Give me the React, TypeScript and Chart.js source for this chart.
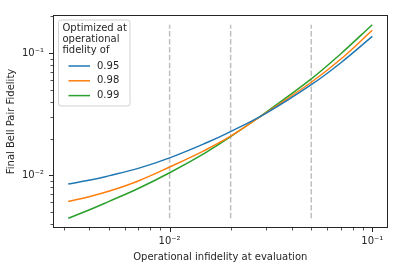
import React, { useEffect, useRef } from "react";
import { Chart, registerables } from "chart.js";

Chart.register(...registerables);

// ---- data ----
const infidelity = [0.00316, 0.004, 0.005, 0.007, 0.01, 0.015, 0.02, 0.03, 0.05, 0.07, 0.1];
const fid095 = [0.0085, 0.0091, 0.0099, 0.0114, 0.0139, 0.0183, 0.0228, 0.0323, 0.0552, 0.0835, 0.137];
const fid098 = [0.0061, 0.00668, 0.0074, 0.009, 0.0117, 0.0161, 0.0209, 0.0326, 0.0578, 0.0895, 0.154];
const fid099 = [0.00445, 0.0052, 0.0061, 0.0078, 0.0105, 0.0153, 0.0207, 0.033, 0.0615, 0.099, 0.171];
const seriesLabels = ["0.95", "0.98", "0.99"];
const seriesColors = ["#1f77b4", "#ff7f0e", "#2ca02c"];
const markerInfidelities = [0.01, 0.02, 0.05];
const xTickLabels: Record<string, string> = { "0.01": "10\u207B\u00B2", "0.1": "10\u207B\u00B9" };
const yTickLabels: Record<string, string> = { "0.01": "10\u207B\u00B2", "0.1": "10\u207B\u00B9" };
const legendTitle = ["Optimized at", "operational", "fidelity of"];
const xTitle = "Operational infidelity at evaluation";
const yTitle = "Final Bell Pair Fidelity";

const FONT = "'DejaVu Sans', sans-serif";

function logLimits(vals: number[]) {
  const lo = Math.log10(Math.min(...vals));
  const hi = Math.log10(Math.max(...vals));
  const m = (hi - lo) * 0.05;
  return [Math.pow(10, lo - m), Math.pow(10, hi + m)];
}

function logTicks(min: number, max: number) {
  const out: number[] = [];
  for (let d = Math.floor(Math.log10(min)); d <= Math.ceil(Math.log10(max)); d++) {
    for (let k = 1; k <= 9; k++) {
      const v = parseFloat((k * Math.pow(10, d)).toPrecision(6));
      if (v >= min && v <= max) out.push(v);
    }
  }
  return out;
}

function isMajor(v: number) {
  const l = Math.log10(v);
  return Math.abs(l - Math.round(l)) < 1e-9;
}

const allY = [...fid095, ...fid098, ...fid099];
const [xMin, xMax] = logLimits(infidelity);
const [yMin, yMax] = logLimits(allY);
const vMin = Math.min(...allY);
const vMax = Math.max(...allY);

const decorPlugin = {
  id: "decor",
  afterDatasetsDraw(chart: any) {
    const { ctx, chartArea: a, scales } = chart;
    ctx.save();
    ctx.strokeStyle = "#262626";
    const xs = scales.x;
    const ys = scales.y;
    xs.ticks.forEach((t: any) => {
      const px = Math.round(xs.getPixelForValue(t.value)) + 0.5;
      const major = isMajor(t.value);
      ctx.lineWidth = major ? 1 : 0.8;
      ctx.beginPath();
      ctx.moveTo(px, a.bottom);
      ctx.lineTo(px, a.bottom + (major ? 4 : 2.5));
      ctx.stroke();
    });
    ys.ticks.forEach((t: any) => {
      const py = Math.round(ys.getPixelForValue(t.value)) + 0.5;
      const major = isMajor(t.value);
      ctx.lineWidth = major ? 1 : 0.8;
      ctx.beginPath();
      ctx.moveTo(a.left, py);
      ctx.lineTo(a.left - (major ? 4 : 2.5), py);
      ctx.stroke();
    });
    ctx.lineWidth = 1;
    const l = Math.round(a.left) + 0.5;
    const r = Math.round(a.right) - 0.5;
    const tp = Math.round(a.top) + 0.5;
    const b = Math.round(a.bottom) - 0.5;
    ctx.strokeRect(l, tp, r - l, b - tp);
    ctx.restore();
  },
  afterDraw(chart: any) {
    const { ctx, chartArea: a } = chart;
    ctx.save();
    const bx = a.left + 5.5;
    const by = a.top + 5;
    const bw = 71.5;
    const bh = 86;
    ctx.beginPath();
    if ((ctx as any).roundRect) (ctx as any).roundRect(bx, by, bw, bh, 2.5);
    else ctx.rect(bx, by, bw, bh);
    ctx.fillStyle = "rgba(255,255,255,0.8)";
    ctx.fill();
    ctx.strokeStyle = "rgba(204,204,204,0.9)";
    ctx.lineWidth = 1;
    ctx.stroke();
    ctx.font = `10px ${FONT}`;
    ctx.fillStyle = "#262626";
    ctx.textBaseline = "middle";
    ctx.textAlign = "left";
    legendTitle.forEach((s, i) => {
      ctx.fillText(s, bx + 4, by + 8.5 + i * 11.2);
    });
    seriesLabels.forEach((s, i) => {
      const y = by + 46 + i * 14.8;
      ctx.strokeStyle = seriesColors[i];
      ctx.lineWidth = 1.5;
      ctx.beginPath();
      ctx.moveTo(bx + 10, y);
      ctx.lineTo(bx + 31.5, y);
      ctx.stroke();
      ctx.fillStyle = "#262626";
      ctx.fillText(s, bx + 38.5, y);
    });
    ctx.restore();
  },
};

export default function App() {
  const ref = useRef<HTMLCanvasElement | null>(null);
  useEffect(() => {
    if (!ref.current) return;
    const series = [fid095, fid098, fid099];
    const datasets: any[] = series.map((ys, i) => ({
      label: seriesLabels[i],
      data: infidelity.map((x, j) => ({ x, y: ys[j] })),
      borderColor: seriesColors[i],
      backgroundColor: seriesColors[i],
      borderWidth: 1.5,
      pointRadius: 0,
      tension: 0.4,
      fill: false,
      order: 1,
    }));
    markerInfidelities.forEach((x) => {
      datasets.push({
        label: "_marker",
        data: [
          { x, y: vMin },
          { x, y: vMax },
        ],
        borderColor: "rgba(128,128,128,0.5)",
        borderWidth: 1.5,
        borderDash: [5.5, 2.4],
        pointRadius: 0,
        tension: 0,
        fill: false,
        order: 5,
      });
    });
    const tickFont = { family: FONT, size: 10 };
    const chart = new Chart(ref.current, {
      type: "line",
      data: { datasets },
      options: {
        animation: false,
        responsive: false,
        layout: { padding: { left: 0, right: 10.5, top: 11, bottom: 0 } },
        plugins: { legend: { display: false }, tooltip: { enabled: false } },
        scales: {
          x: {
            type: "logarithmic",
            min: xMin,
            max: xMax,
            grid: { display: true, drawOnChartArea: false, drawTicks: false },
            border: { display: false },
            afterBuildTicks: (s: any) => {
              s.ticks = logTicks(xMin, xMax).map((v) => ({ value: v, major: isMajor(v) }));
            },
            afterFit: (s: any) => {
              s.height = 42;
            },
            ticks: {
              autoSkip: false,
              maxRotation: 0,
              minRotation: 0,
              padding: 7,
              color: "#262626",
              font: tickFont,
              callback: (v: any) => xTickLabels[String(parseFloat(Number(v).toPrecision(6)))] || "",
            },
            title: {
              display: true,
              text: xTitle,
              color: "#262626",
              font: tickFont,
              padding: { top: 0, bottom: 7 },
            },
          },
          y: {
            type: "logarithmic",
            min: yMin,
            max: yMax,
            grid: { display: true, drawOnChartArea: false, drawTicks: false },
            border: { display: false },
            afterBuildTicks: (s: any) => {
              s.ticks = logTicks(yMin, yMax).map((v) => ({ value: v, major: isMajor(v) }));
            },
            afterFit: (s: any) => {
              s.width = 53;
            },
            ticks: {
              autoSkip: false,
              padding: 9,
              color: "#262626",
              font: tickFont,
              callback: (v: any) => yTickLabels[String(parseFloat(Number(v).toPrecision(6)))] || "",
            },
            title: {
              display: true,
              text: yTitle,
              color: "#262626",
              font: tickFont,
              padding: { top: 5, bottom: 0 },
            },
          },
        },
      },
      plugins: [decorPlugin],
    } as any);
    return () => chart.destroy();
  }, []);
  return (
    <div style={{ position: "absolute", left: 0, top: 0, width: 398, height: 270, background: "#fff" }}>
      <canvas ref={ref} width={398} height={270} style={{ display: "block" }} />
    </div>
  );
}
